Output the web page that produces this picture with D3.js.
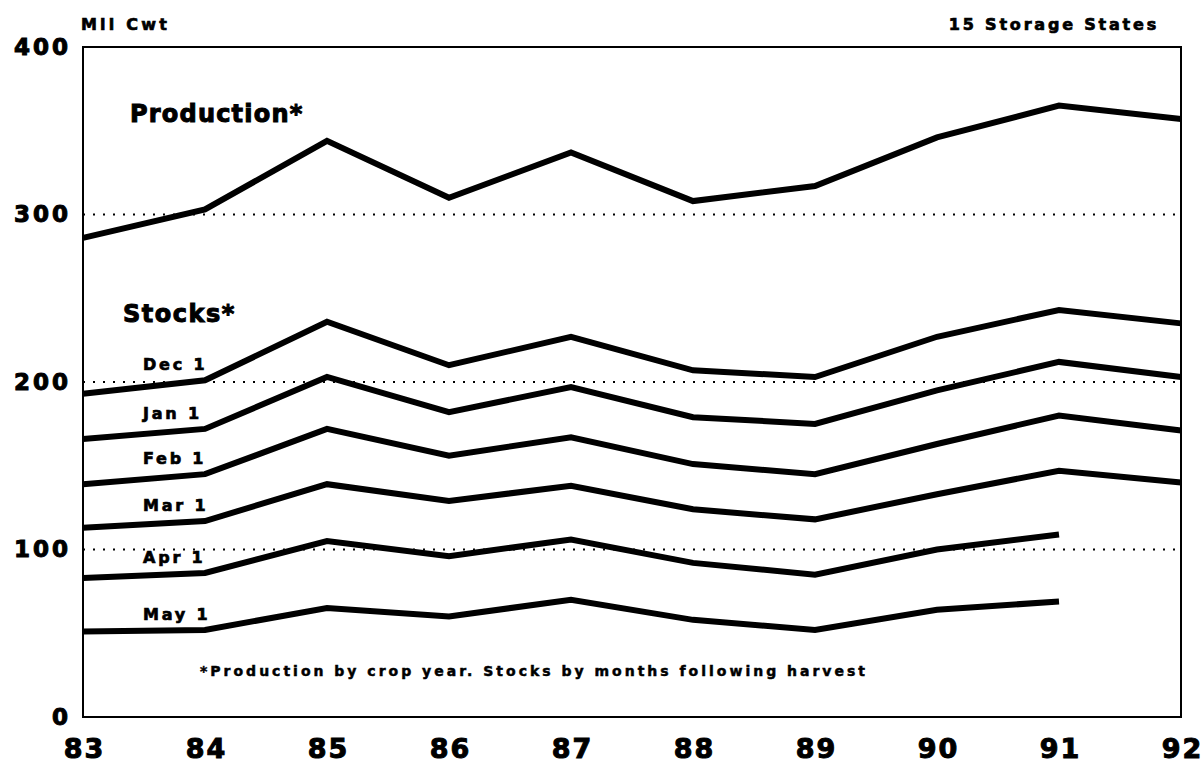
<!DOCTYPE html>
<html>
<head>
<meta charset="utf-8">
<script src="https://cdn.jsdelivr.net/npm/d3@7"></script>
<style>
  body { margin: 0; background: #fff; }
  text { font-family: "DejaVu Sans", sans-serif; font-weight: bold; fill: #000; stroke: #000; stroke-width: 0.7px; }
</style>
</head>
<body>
<div id="chart"></div>
<script>
// chart values (Mil Cwt)
var years = [83, 84, 85, 86, 87, 88, 89, 90, 91, 92];
var yTicks = [0, 100, 200, 300, 400];
var gridValues = [100, 200, 300];

var production = [286, 303, 344, 310, 337, 308, 317, 346, 365, 357];
var dec1 = [193, 201, 236, 210, 227, 207, 203, 227, 243, 235];
var jan1 = [166, 172, 203, 182, 197, 179, 175, 195, 212, 203];
var feb1 = [139, 145, 172, 156, 167, 151, 145, 163, 180, 171];
var mar1 = [113, 117, 139, 129, 138, 124, 118, 133, 147, 140];
var apr1 = [83, 86, 105, 96, 106, 92, 85, 100, 109, null];
var may1 = [51, 52, 65, 60, 70, 58, 52, 64, 69, null];

var stockNames = ["Dec 1", "Jan 1", "Feb 1", "Mar 1", "Apr 1", "May 1"];
var stockSeries = [dec1, jan1, feb1, mar1, apr1, may1];

var unitLabel = "Mil Cwt";
var regionLabel = "15 Storage States";
var footnote = "*Production by crop year. Stocks by months following harvest";

// set the dimensions and margins of the graph
var W = 1203, H = 765;
var margin = { top: 47, right: 22, bottom: 48, left: 83 };
var width = W - margin.left - margin.right;
var height = H - margin.top - margin.bottom;

var svg = d3.select("#chart")
  .append("svg")
  .attr("width", W)
  .attr("height", H)
  .append("g")
  .attr("transform", "translate(" + margin.left + "," + margin.top + ")");

var x = d3.scaleLinear().domain([83, 92]).range([0, width]);
var y = d3.scaleLinear().domain([0, 400]).range([height, 0]);

// dotted grid at 100, 200, 300
svg.selectAll(".grid")
  .data(gridValues)
  .enter().append("line")
  .attr("class", "grid")
  .attr("x1", 0)
  .attr("x2", width)
  .attr("y1", d => y(d))
  .attr("y2", d => y(d))
  .style("stroke", "#000")
  .style("stroke-width", 2)
  .style("stroke-dasharray", "2,8");

// frame
svg.append("rect")
  .attr("x", 0)
  .attr("y", 0)
  .attr("width", width)
  .attr("height", height)
  .style("fill", "none")
  .style("stroke", "#000")
  .style("stroke-width", 2);

// x axis labels
var xAxis = svg.append("g")
  .attr("transform", "translate(0," + height + ")")
  .call(d3.axisBottom(x).tickValues(years).tickFormat(d => String(d)).tickSize(0).tickPadding(22));
xAxis.select(".domain").remove();
xAxis.selectAll("text")
  .attr("fill", "#000")
  .style("font-family", "DejaVu Sans")
  .style("font-weight", "bold")
  .style("font-size", "27px")
  .style("letter-spacing", "2px")
  .style("stroke-width", "1px")
  .attr("dx", "1px");

// y axis labels
var yAxis = svg.append("g")
  .call(d3.axisLeft(y).tickValues(yTicks).tickFormat(d => String(d)).tickSize(0).tickPadding(15));
yAxis.select(".domain").remove();
yAxis.selectAll("text")
  .attr("fill", "#000")
  .style("font-family", "DejaVu Sans")
  .style("font-weight", "bold")
  .style("font-size", "23px")
  .style("letter-spacing", "3px")
  .style("stroke-width", "1px")
  .attr("dx", "3px");

// lines
var line = d3.line()
  .defined(d => d != null)
  .x((d, i) => x(years[i]))
  .y(d => y(d));

svg.append("path")
  .datum(production)
  .attr("d", line)
  .style("fill", "none")
  .style("stroke", "#000")
  .style("stroke-width", 6)
  .style("stroke-linejoin", "miter");

stockSeries.forEach(s => {
  svg.append("path")
    .datum(s)
    .attr("d", line)
    .style("fill", "none")
    .style("stroke", "#000")
    .style("stroke-width", 6)
    .style("stroke-linejoin", "miter");
});

// big labels
svg.append("text")
  .attr("x", 47)
  .attr("y", 75)
  .style("font-size", "24px")
  .style("letter-spacing", "1.2px")
  .style("stroke-width", "1px")
  .text("Production*");

svg.append("text")
  .attr("x", 40)
  .attr("y", 275)
  .style("font-size", "24px")
  .style("letter-spacing", "1.5px")
  .style("stroke-width", "1px")
  .text("Stocks*");

// month labels sit just above the 84 point of each stocks line
stockSeries.forEach((s, i) => {
  svg.append("text")
    .attr("x", x(84) - 62)
    .attr("y", y(s[1]) - 10)
    .attr("text-anchor", "start")
    .style("font-size", "16px")
    .style("letter-spacing", "2.8px")
    .text(stockNames[i]);
});

// titles and footnote
svg.append("text")
  .attr("x", -2)
  .attr("y", -17)
  .style("font-size", "16px")
  .style("letter-spacing", "3.2px")
  .text(unitLabel);

svg.append("text")
  .attr("x", width - 22)
  .attr("y", -17)
  .attr("text-anchor", "end")
  .style("font-size", "16px")
  .style("letter-spacing", "2.8px")
  .text(regionLabel);

svg.append("text")
  .attr("x", 117)
  .attr("y", height - 41)
  .style("font-size", "14px")
  .style("letter-spacing", "3px")
  .style("stroke-width", "0.5px")
  .text(footnote);
</script>
</body>
</html>
